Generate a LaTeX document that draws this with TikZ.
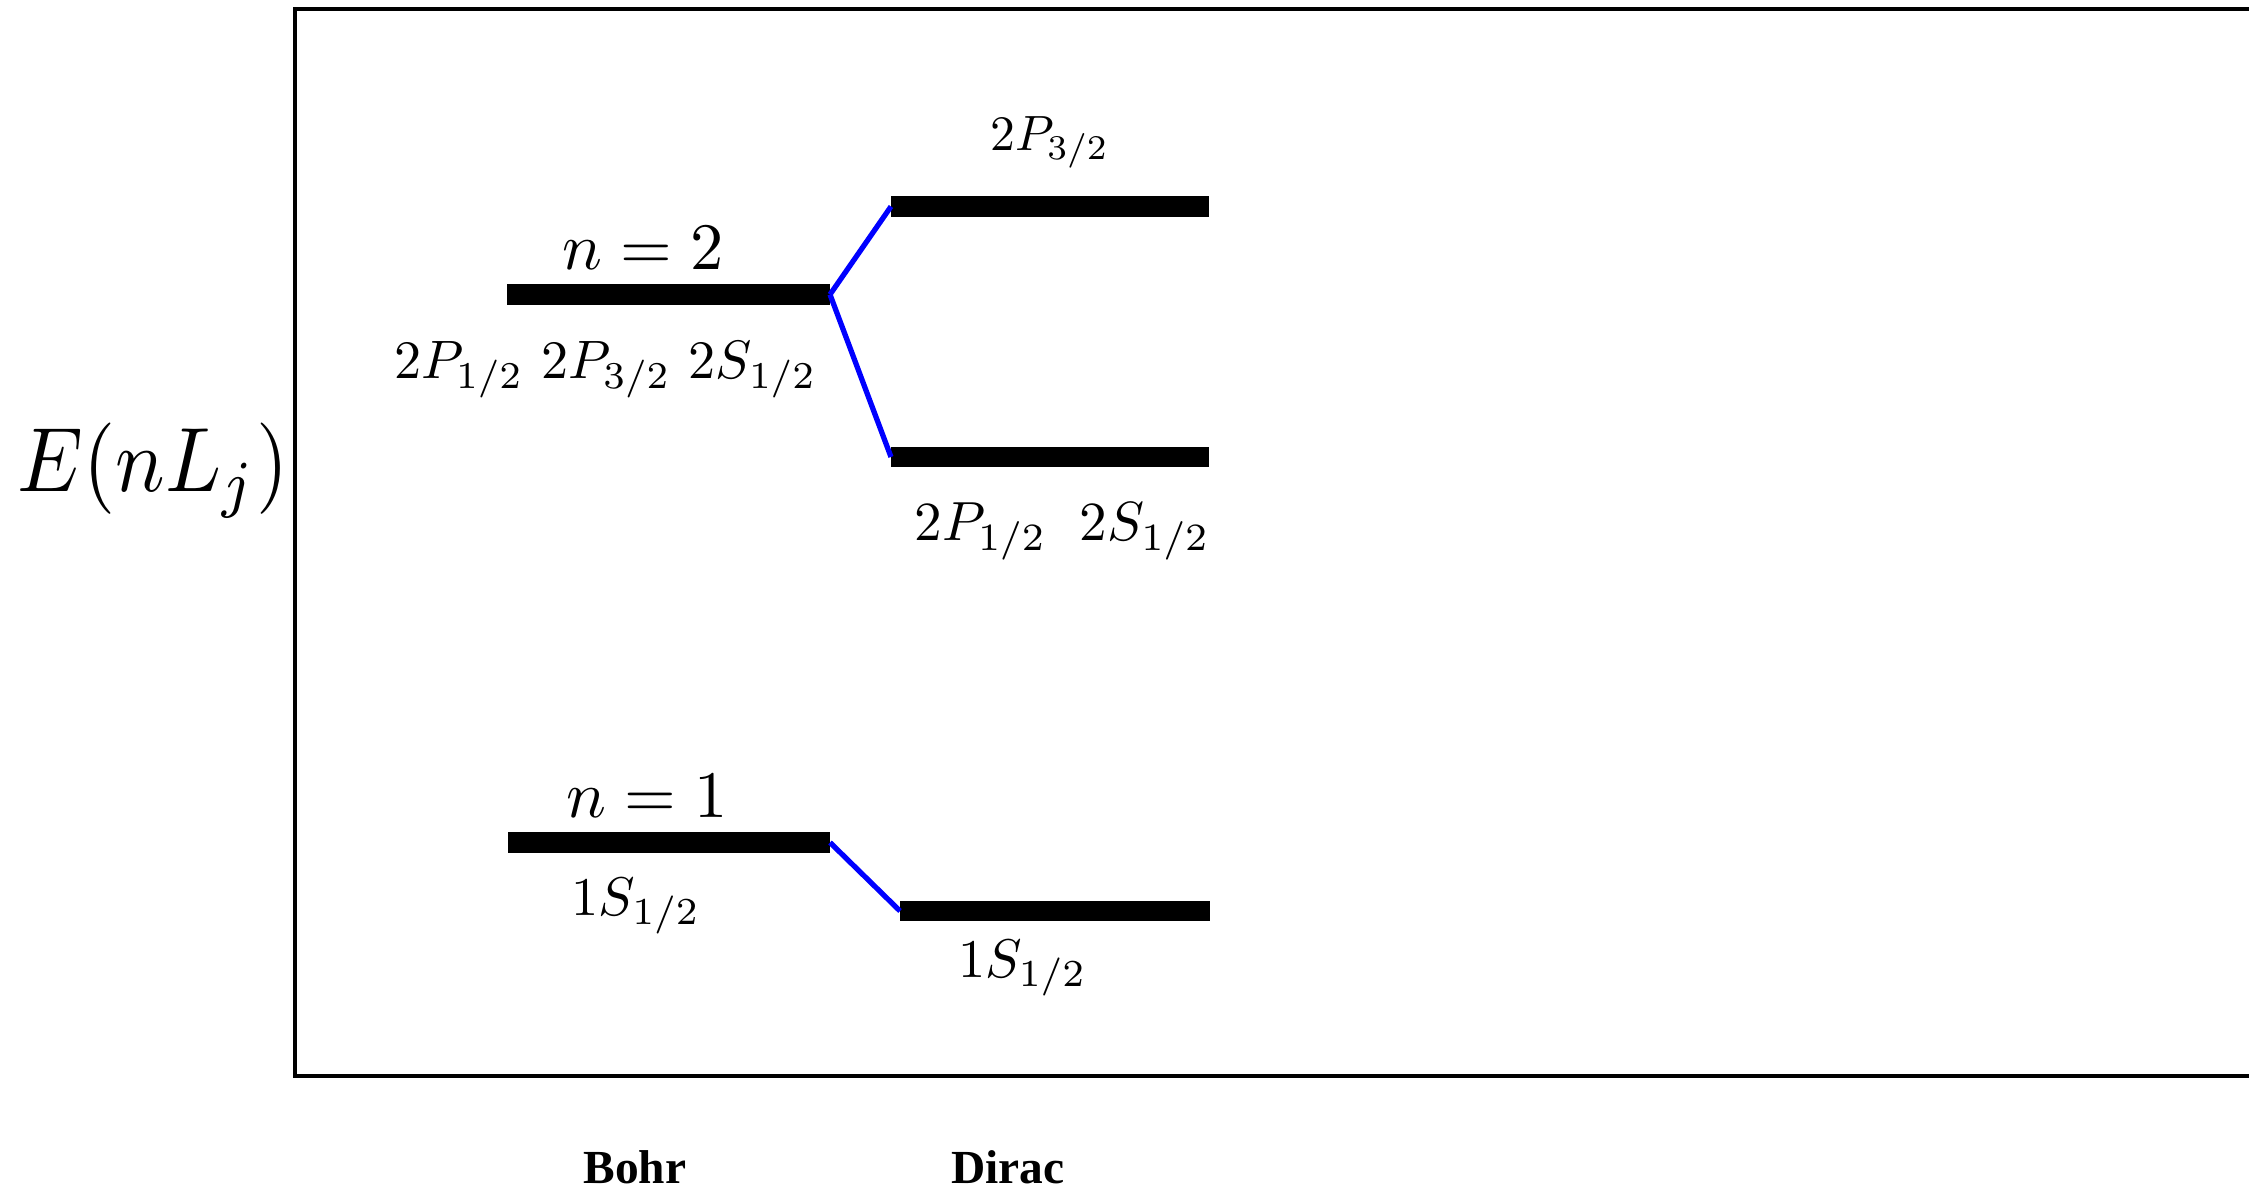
\documentclass[tikz,border=0pt]{standalone}
\usepackage{fontspec}
\newfontfamily\timesfont{Liberation Serif}
\tikzset{
  level/.style={line width=5.7pt, line cap=butt},
  link/.style={draw=blue, line width=1.5pt},
  frame/.style={line width=1.15pt},
  lbl/.style={inner sep=0pt, anchor=base},
  methodlbl/.style={inner sep=0pt, anchor=base, font=\timesfont\bfseries, scale=1.35},
}
\begin{document}
\begin{tikzpicture}
\useasboundingbox (0,0) rectangle (22.49,11.92);
% frame (open on the right)
\draw[frame] (22.49,11.83) -- (2.95,11.83) -- (2.95,1.16) -- (22.49,1.16);
% level end points
\coordinate (b2l) at (5.07,8.975);  \coordinate (b2r) at (8.30,8.975);
\coordinate (d3l) at (8.91,9.855);  \coordinate (d3r) at (12.09,9.855);
\coordinate (d1l) at (8.91,7.35);   \coordinate (d1r) at (12.09,7.35);
\coordinate (b1l) at (5.08,3.495);  \coordinate (b1r) at (8.30,3.495);
\coordinate (dsl) at (9.00,2.81);   \coordinate (dsr) at (12.10,2.81);
% levels
\draw[level] (b2l) -- (b2r);
\draw[level] (d3l) -- (d3r);
\draw[level] (d1l) -- (d1r);
\draw[level] (b1l) -- (b1r);
\draw[level] (dsl) -- (dsr);
% splitting lines
\draw[link] (b2r) -- (d3l);
\draw[link] (b2r) -- (d1l);
\draw[link] (b1r) -- (dsl);
% labels
\node[inner sep=0pt, anchor=base west, xscale=2.35, yscale=2.6] (E) at (0.16,7.00) {$E(nL_j)$};
\node[lbl, scale=1.89] (n2) at (6.43,9.22) {$n=2$};
\node[lbl, scale=1.54] (b2lab) at (6.055,8.13) {$2P_{1/2}$ $2P_{3/2}$ $2S_{1/2}$};
\node[lbl, scale=1.41] (d3lab) at (10.50,10.41) {$2P_{3/2}$};
\node[lbl, scale=1.57] (d1lab) at (10.625,6.51) {$2P_{1/2}$\hspace{0.6em}$2S_{1/2}$};
\node[lbl, scale=1.89] (n1) at (6.47,3.74) {$n=1$};
\node[lbl, scale=1.55] (b1lab) at (6.36,2.77) {$1S_{1/2}$};
\node[lbl, scale=1.55] (dslab) at (10.225,2.15) {$1S_{1/2}$};
\node[methodlbl] (bohr) at (6.35,0.09) {Bohr};
\node[methodlbl] (dirac) at (10.08,0.09) {Dirac};
\end{tikzpicture}
\end{document}
